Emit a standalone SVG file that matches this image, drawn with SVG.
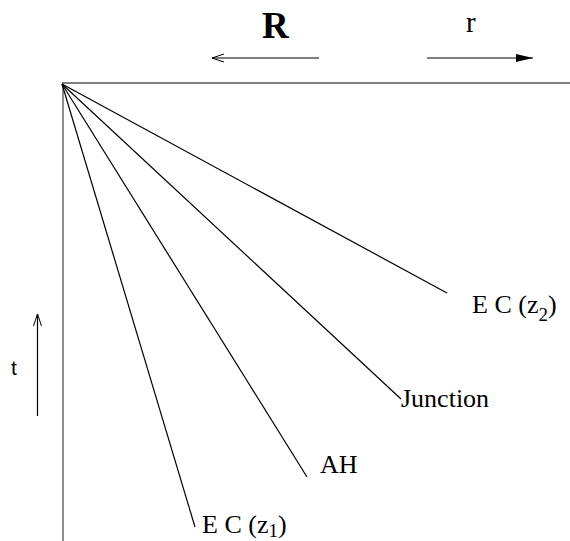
<svg xmlns="http://www.w3.org/2000/svg" width="570" height="541" viewBox="0 0 570 541">
<style>
.ln{stroke:#000;stroke-width:1.2;fill:none}
.ar{stroke:#555;stroke-width:1.3;fill:none}
.lb{font-family:"Liberation Serif","Times New Roman",serif;font-size:26px;fill:#000}
</style>
<defs>
<marker id="open" markerWidth="14" markerHeight="10" refX="13" refY="5" orient="auto" markerUnits="userSpaceOnUse">
<path d="M1,1 L13,5 L1,9" fill="none" stroke="#000" stroke-width="1"/>
</marker>
<marker id="filled" markerWidth="18" markerHeight="10" refX="17" refY="5" orient="auto" markerUnits="userSpaceOnUse">
<path d="M0,1 L17,5 L0,9 Z" fill="#000"/>
</marker>
</defs>
<g id="axes">
<line class="ln" x1="62" y1="83" x2="570" y2="83"/>
<line x1="63" y1="84" x2="63" y2="541" stroke="#666" stroke-width="1.5"/>
</g>
<g id="connectors">
<line class="ln" x1="62" y1="84" x2="447" y2="293"/>
<line class="ln" x1="62" y1="84" x2="401" y2="399"/>
<line class="ln" x1="62" y1="84" x2="307" y2="477"/>
<line class="ln" x1="62" y1="84" x2="195" y2="527"/>
</g>
<g id="arrows">
<line class="ar" x1="319" y1="58" x2="212" y2="58" marker-end="url(#open)"/>
<line class="ar" x1="427" y1="58" x2="533" y2="58" marker-end="url(#filled)"/>
<line x1="37.5" y1="416" x2="37.5" y2="314" stroke="#000" stroke-width="1.2" marker-end="url(#open)"/>
</g>
<g id="labels">
<text x="262" y="38" font-family="Liberation Serif, serif" font-weight="bold" font-size="37">R</text>
<text x="466" y="32" font-family="Liberation Serif, serif" font-size="29">r</text>
<text x="11" y="375" font-family="Liberation Sans, Arial, sans-serif" font-size="21">t</text>
</g>
<g id="node-ec2"><text class="lb" x="472" y="313">E C (z<tspan font-size="19" dy="8">2</tspan><tspan dy="-8">)</tspan></text></g>
<g id="node-junction"><text class="lb" x="401" y="407">Junction</text></g>
<g id="node-ah"><text class="lb" x="320" y="473">AH</text></g>
<g id="node-ec1"><text class="lb" x="202" y="533">E C (z<tspan font-size="19" dy="4">1</tspan><tspan dy="-4">)</tspan></text></g>
</svg>
